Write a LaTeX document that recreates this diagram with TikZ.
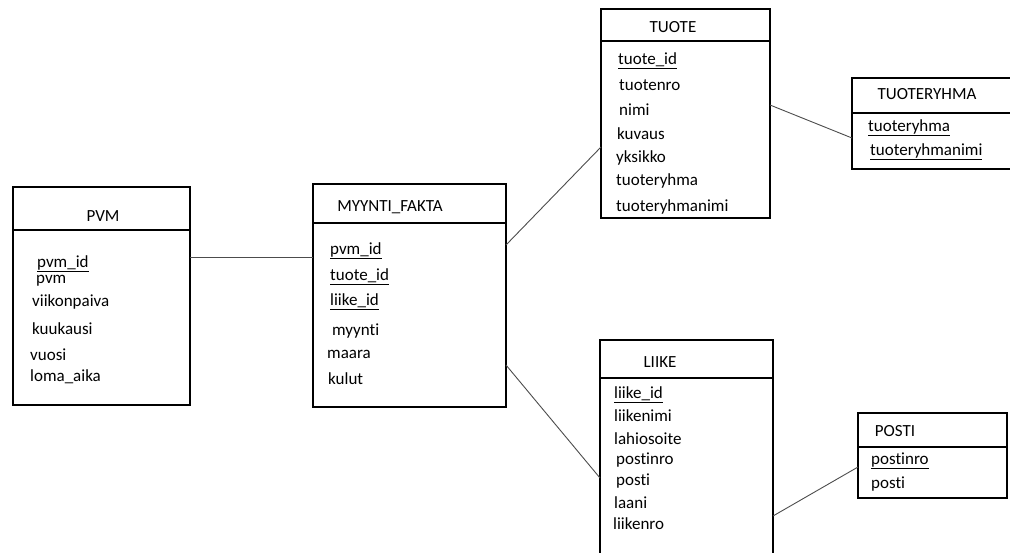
\documentclass[tikz,border=0pt]{standalone}
\usepackage{fontspec}
\setmainfont{Carlito}[Ligatures=NoCommon]
\usetikzlibrary{positioning}

\begin{document}
\begin{tikzpicture}[x=1pt, y=-1pt,
box/.style={draw=black, line width=2.6pt, inner sep=0pt, outer sep=0pt},
title/.style={anchor=center, inner sep=0pt, font=\fontsize{17}{20}\selectfont},
attr/.style={anchor=west, inner sep=0pt, yshift=-2pt, font=\fontsize{17}{20}\selectfont},
key/.style={attr, yshift=-1pt},
]
\tikzset{link/.style={draw=black!70, line width=0.9pt}}
\useasboundingbox (0,0) rectangle (1010,552);

%Table PVM
\node[box, minimum width=177pt, minimum height=43pt] (pvmh) at (101.5,208.5) {};
\node[box, minimum width=177pt, minimum height=175pt, below=0pt of pvmh] (pvmb) {};
\node[title] (pvmt) at (103,216) {PVM};
\node[key] (pvmid) at (37,261) {\underline{pvm\_id}};
\node[attr] (pvmpvm) at (36,279) {pvm};
\node[attr] (pvmvp) at (32,300) {viikonpaiva};
\node[attr] (pvmkk) at (32,327) {kuukausi};
\node[attr] (pvmvuosi) at (30,353) {vuosi};
\node[attr] (pvmloma) at (30,375) {loma\_aika};

%Table MYYNTI_FAKTA
\node[box, minimum width=193pt, minimum height=39pt] (faktah) at (409.5,203.5) {};
\node[box, minimum width=193pt, minimum height=184pt, below=0pt of faktah] (faktab) {};
\node[title] (faktat) at (390,207) {MYYNTI\_FAKTA};
\node[key] (faktapvm) at (330,248) {\underline{pvm\_id}};
\node[key] (faktatuote) at (330,274) {\underline{tuote\_id}};
\node[key] (faktaliike) at (330,299) {\underline{liike\_id}};
\node[attr] (faktamyynti) at (332,329) {myynti};
\node[attr] (faktamaara) at (327,352) {maara};
\node[attr] (faktakulut) at (328,377) {kulut};

%Table TUOTE
\node[box, minimum width=169pt, minimum height=32pt] (tuoteh) at (685.5,25) {};
\node[box, minimum width=169pt, minimum height=177pt, below=0pt of tuoteh] (tuoteb) {};
\node[title] (tuotet) at (673,27) {TUOTE};
\node[key] (tuoteid) at (618,58) {\underline{tuote\_id}};
\node[attr] (tuotenro) at (619,83) {tuotenro};
\node[attr] (tuotenimi) at (619,108) {nimi};
\node[attr] (tuotekuvaus) at (617,132) {kuvaus};
\node[attr] (tuoteyks) at (616,156) {yksikko};
\node[attr] (tuoteryh) at (616,179) {tuoteryhma};
\node[attr] (tuoteryhnimi) at (616,205) {tuoteryhmanimi};

%Table TUOTERYHMA
\node[box, minimum width=162pt, minimum height=35pt] (ryhmah) at (933,95.5) {};
\node[box, minimum width=162pt, minimum height=56pt, below=0pt of ryhmah] (ryhmab) {};
\node[title] (ryhmat) at (927,94) {TUOTERYHMA};
\node[key] (ryhmaid) at (868,125) {\underline{tuoteryhma}};
\node[key] (ryhmanimi) at (870,149) {\underline{tuoteryhmanimi}};

%Table LIIKE
\node[box, minimum width=173pt, minimum height=38pt] (liikeh) at (686.5,359) {};
\node[box, minimum width=173pt, minimum height=190pt, below=0pt of liikeh] (liikeb) {};
\node[title] (liiket) at (660,362) {LIIKE};
\node[key] (liikeid) at (614,392) {\underline{liike\_id}};
\node[attr] (liikenimi) at (614,414) {liikenimi};
\node[attr] (liikeosoite) at (614,437) {lahiosoite};
\node[attr] (liikepnro) at (616,458) {postinro};
\node[attr] (liikeposti) at (616,479) {posti};
\node[attr] (liikelaani) at (614,501) {laani};
\node[attr] (liikenro) at (613,522) {liikenro};

%Table POSTI
\node[box, minimum width=149pt, minimum height=34pt] (postih) at (932.5,430) {};
\node[box, minimum width=149pt, minimum height=51pt, below=0pt of postih] (postib) {};
\node[title] (postit) at (895,431) {POSTI};
\node[key] (postinro) at (871,458) {\underline{postinro}};
\node[attr] (postinimi) at (871,482) {posti};

%Connections
\draw[link] (pvmb.east |- 0,257) -- (faktab.west |- 0,257);
\draw[link] (faktab.east |- 0,245) -- (tuoteb.west |- 0,147);
\draw[link] (faktab.east |- 0,365) -- (liikeb.west |- 0,478);
\draw[link] (tuoteb.east |- 0,105) -- (ryhmab.west |- 0,138);
\draw[link] (liikeb.east |- 0,516) -- (postib.west |- 0,467);
\end{tikzpicture}
\end{document}
